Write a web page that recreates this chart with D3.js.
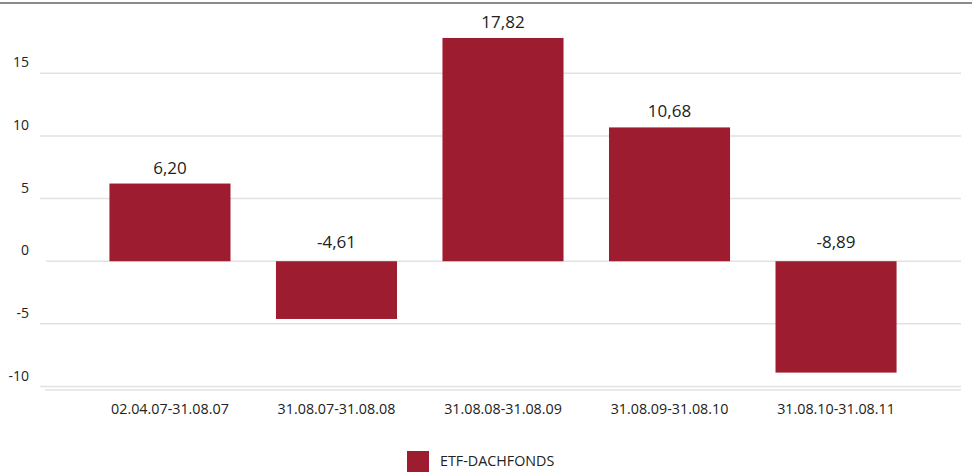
<!DOCTYPE html>
<html>
<head>
<meta charset="utf-8">
<script src="https://cdn.jsdelivr.net/npm/d3@7"></script>
<style>
  body { margin: 0; background: #fff; }
  text { font-family: "Open Sans", "Noto Sans", sans-serif; fill: #222; }
</style>
</head>
<body>
<div class="chart"></div>
<script>
var categories = ["02.04.07-31.08.07", "31.08.07-31.08.08", "31.08.08-31.08.09", "31.08.09-31.08.10", "31.08.10-31.08.11"];
var values = [6.20, -4.61, 17.82, 10.68, -8.89];
var yTicks = [-10, -5, 0, 5, 10, 15];
var seriesName = "ETF-DACHFONDS";

var svgWidth = 972;
var svgHeight = 472;
var barColor = "#9e1c2f";

var svg = d3.select(".chart")
  .append("svg")
  .attr("width", svgWidth)
  .attr("height", svgHeight);

// top border
svg.append("line")
  .attr("x1", 0).attr("x2", svgWidth)
  .attr("y1", 3).attr("y2", 3)
  .attr("stroke", "#8a8a8a")
  .attr("stroke-width", 2);

var x = d3.scaleBand()
  .domain(categories)
  .range([45, 961])
  .paddingInner(0.273)
  .paddingOuter(0.387);

var y = d3.scaleLinear()
  .domain([-10, 15])
  .range([386.5, 73.3]);

// gridlines + y labels
var grid = svg.append("g");
grid.selectAll("line")
  .data(yTicks)
  .enter()
  .append("line")
  .attr("x1", d => d === 0 ? 46 : 40)
  .attr("x2", 961)
  .attr("y1", d => y(d))
  .attr("y2", d => y(d))
  .attr("stroke", "#e2e2e2")
  .attr("stroke-width", 1.5);

grid.selectAll("text")
  .data(yTicks)
  .enter()
  .append("text")
  .attr("x", 29)
  .attr("y", d => y(d) - 6)
  .attr("text-anchor", "end")
  .style("font-size", "14px")
  .text(d => String(d));

// bottom axis line
svg.append("line")
  .attr("x1", 45).attr("x2", 961)
  .attr("y1", 390).attr("y2", 390)
  .attr("stroke", "#e2e2e2")
  .attr("stroke-width", 1.5);

// bars
svg.selectAll("rect.bar")
  .data(values)
  .enter()
  .append("rect")
  .attr("class", "bar")
  .attr("x", (d, i) => x(categories[i]))
  .attr("width", x.bandwidth())
  .attr("y", d => Math.min(y(d), y(0)))
  .attr("height", d => Math.abs(y(d) - y(0)))
  .attr("fill", barColor);

// value labels
svg.selectAll("text.val")
  .data(values)
  .enter()
  .append("text")
  .attr("class", "val")
  .attr("x", (d, i) => x(categories[i]) + x.bandwidth() / 2)
  .attr("y", d => d >= 0 ? y(d) - 10 : y(0) - 13)
  .attr("text-anchor", "middle")
  .style("font-size", "17px")
  .text(d => d.toFixed(2).replace(".", ","));

// x labels
svg.selectAll("text.cat")
  .data(categories)
  .enter()
  .append("text")
  .attr("class", "cat")
  .attr("x", d => x(d) + x.bandwidth() / 2)
  .attr("y", 414)
  .attr("text-anchor", "middle")
  .style("font-size", "14.3px")
  .text(d => d);

// legend
var legend = svg.append("g");
legend.append("rect")
  .attr("x", 407).attr("y", 451)
  .attr("width", 22).attr("height", 21)
  .attr("fill", barColor);
legend.append("text")
  .attr("x", 440).attr("y", 466)
  .style("font-size", "14.3px")
  .text(seriesName);
</script>
</body>
</html>
